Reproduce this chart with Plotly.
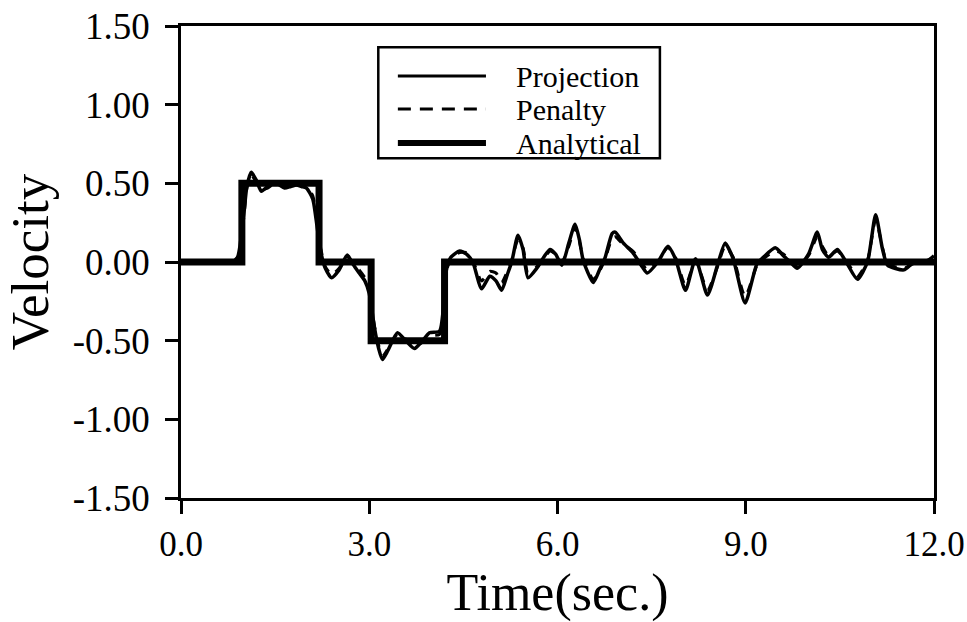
import plotly.graph_objects as go

# ---- data ----
time_proj = [0, 0.8, 0.9, 1.0, 1.05, 1.12, 1.2, 1.28, 1.38, 1.49, 1.57, 1.65, 1.75, 1.84, 1.92, 2.0,
             2.1, 2.17, 2.23, 2.3, 2.4, 2.52, 2.65, 2.75, 2.84, 2.93, 3.0, 3.08, 3.15, 3.21, 3.3, 3.45,
             3.58, 3.72, 3.85, 3.96, 4.12, 4.18, 4.23, 4.3, 4.44, 4.55, 4.65, 4.79, 4.92, 5.02, 5.11,
             5.2, 5.27, 5.37, 5.45, 5.53, 5.67, 5.78, 5.88, 5.97, 6.07, 6.18, 6.28, 6.35, 6.41, 6.57,
             6.68, 6.76, 6.87, 6.92, 7.05, 7.2, 7.35, 7.43, 7.6, 7.76, 7.88, 8.04, 8.2, 8.39, 8.55,
             8.67, 8.8, 8.99, 9.18, 9.28, 9.47, 9.6, 9.71, 9.82, 10.0, 10.14, 10.22, 10.32, 10.46,
             10.6, 10.78, 10.94, 11.07, 11.18, 11.26, 11.52, 11.68, 11.9, 12.0]
projection = [0, 0.0, 0.03, 0.30, 0.48, 0.57, 0.52, 0.45, 0.48, 0.51, 0.49, 0.47, 0.48, 0.49, 0.48, 0.47,
              0.40, 0.22, 0.06, -0.04, -0.10, -0.05, 0.045, -0.02, -0.07, -0.12, -0.20, -0.41, -0.55,
              -0.62, -0.56, -0.45, -0.50, -0.55, -0.50, -0.45, -0.44, -0.30, -0.05, 0.03, 0.07, 0.05,
              0.0, -0.17, -0.09, -0.12, -0.18, -0.08, 0.0, 0.17, 0.08, -0.10, -0.04, 0.03, 0.08, 0.05,
              -0.02, 0.12, 0.24, 0.14, 0.01, -0.13, -0.04, 0.03, 0.18, 0.19, 0.12, 0.06, -0.03, -0.07,
              0.0, 0.10, 0.02, -0.18, 0.02, -0.21, -0.02, 0.12, 0.02, -0.26, -0.01, 0.03, 0.09, 0.04,
              0.0, -0.04, 0.05, 0.19, 0.08, 0.03, 0.08, 0.0, -0.11, 0.0, 0.30, 0.08, -0.02, -0.05,
              0.0, 0.01, 0.04]
penalty = [0, 0.0, 0.02, 0.28, 0.47, 0.55, 0.51, 0.46, 0.47, 0.50, 0.49, 0.48, 0.48, 0.49, 0.49, 0.48,
           0.42, 0.25, 0.08, -0.03, -0.08, -0.04, 0.03, -0.01, -0.05, -0.10, -0.18, -0.40, -0.53,
           -0.60, -0.55, -0.46, -0.49, -0.53, -0.51, -0.47, -0.46, -0.32, -0.06, 0.02, 0.06, 0.06,
           0.01, -0.12, -0.06, -0.07, -0.13, -0.06, 0.01, 0.14, 0.09, -0.07, -0.03, 0.02, 0.07, 0.05,
           0.0, 0.10, 0.22, 0.13, 0.02, -0.11, -0.05, 0.02, 0.15, 0.16, 0.11, 0.07, -0.01, -0.05,
           0.01, 0.09, 0.03, -0.15, 0.01, -0.18, -0.03, 0.10, 0.03, -0.22, -0.02, 0.02, 0.07, 0.05,
           0.01, -0.03, 0.04, 0.16, 0.10, 0.04, 0.07, 0.01, -0.09, 0.01, 0.27, 0.09, -0.01, -0.04,
           -0.01, 0.01, 0.03]
time_analytical = [0, 0.97, 0.97, 2.2, 2.2, 3.03, 3.03, 4.2, 4.2, 12.0]
analytical = [0, 0, 0.5, 0.5, 0, 0, -0.5, -0.5, 0, 0]

series_names = ["Projection", "Penalty", "Analytical"]
x_tickvals = [0, 3, 6, 9, 12]
x_ticktext = ["0.0", "3.0", "6.0", "9.0", "12.0"]
y_tickvals = [1.5, 1.0, 0.5, 0.0, -0.5, -1.0, -1.5]
y_ticktext = ["1.50", "1.00", "0.50", "0.00", "-0.50", "-1.00", "-1.50"]

FONT = "Liberation Serif"

fig = go.Figure()
fig.add_trace(go.Scatter(x=time_analytical, y=analytical, mode="lines", name=series_names[2],
                         line=dict(color="black", width=7), showlegend=False))
fig.add_trace(go.Scatter(x=time_proj, y=penalty, mode="lines", name=series_names[1],
                         line=dict(color="black", width=3, dash="dash", shape="spline", smoothing=0.6),
                         showlegend=False))
fig.add_trace(go.Scatter(x=time_proj, y=projection, mode="lines", name=series_names[0],
                         line=dict(color="black", width=3.5, shape="spline", smoothing=0.6),
                         showlegend=False))

# hand-drawn legend box (as in the original figure)
fig.add_shape(type="rect", xref="paper", yref="paper", x0=0.262, x1=0.636, y0=0.720, y1=0.955,
              line=dict(color="black", width=2.5), fillcolor="white", layer="above")
legend_rows = [0.894, 0.824, 0.752]
legend_styles = [dict(width=3), dict(width=3, dash="13px,9px"), dict(width=6)]
for name, yy, st in zip(series_names, legend_rows, legend_styles):
    fig.add_shape(type="line", xref="paper", yref="paper", x0=0.288, x1=0.405, y0=yy, y1=yy,
                  line=dict(color="black", **st), layer="above")
    fig.add_annotation(x=0.442, y=yy, xref="paper", yref="paper", text=name, showarrow=False,
                       xanchor="left", yanchor="middle",
                       font=dict(family=FONT, size=30, color="black"))

axis_common = dict(showline=True, linecolor="black", linewidth=2.5, mirror=True,
                   ticks="outside", ticklen=13, tickwidth=2.5, tickcolor="black",
                   showgrid=False, zeroline=False, automargin=False)

fig.update_layout(
    width=967, height=622,
    margin=dict(l=181, r=33, t=26, b=124),
    paper_bgcolor="white", plot_bgcolor="white",
    xaxis=dict(range=[0, 12], tickvals=x_tickvals, ticktext=x_ticktext, ticklabelstandoff=0,
               tickfont=dict(family=FONT, size=35, color="black"),
               title=dict(text="Time(sec.)", font=dict(family=FONT, size=52, color="black"), standoff=16),
               **axis_common),
    yaxis=dict(range=[-1.5, 1.5], tickvals=y_tickvals, ticktext=y_ticktext, ticklabelstandoff=8,
               tickfont=dict(family=FONT, size=37, color="black"),
               title=dict(text="Velocity", font=dict(family=FONT, size=53, color="black"), standoff=8),
               **axis_common),
)

fig.write_html("out.html")
